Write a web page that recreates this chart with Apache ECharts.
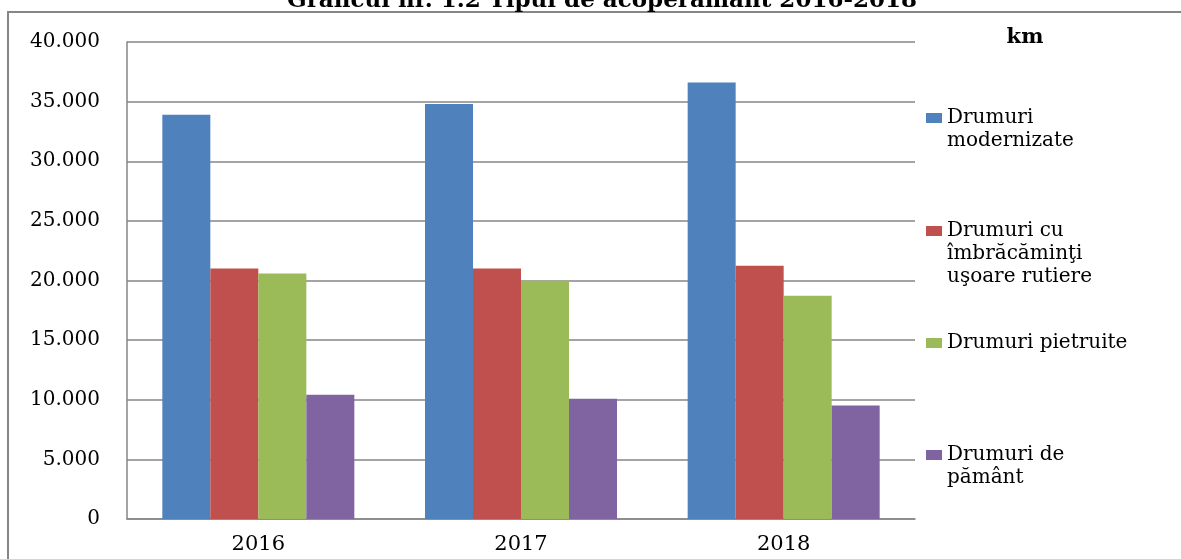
<!DOCTYPE html>
<html>
<head>
<meta charset="utf-8">
<script src="https://cdn.jsdelivr.net/npm/echarts@6/dist/echarts.min.js"></script>
<style>
  html, body { margin: 0; padding: 0; background: #fff; }
  #chart { width: 1181px; height: 559px; }
</style>
</head>
<body>
<div id="chart"></div>
<script>
// categories and values (km)
const years = ['2016', '2017', '2018']
const seriesNames = ['Drumuri modernizate', 'Drumuri cu îmbrăcăminţi uşoare rutiere', 'Drumuri pietruite', 'Drumuri de pământ']
const modernizate = [33900, 34810, 36610]
const imbracaminti = [21010, 21010, 21230]
const pietruite = [20590, 19970, 18720]
const pamant = [10420, 10080, 9520]
// how the legend text is broken into lines
const legendLines = [
  ['Drumuri', 'modernizate'],
  ['Drumuri cu', 'îmbrăcăminţi', 'uşoare rutiere'],
  ['Drumuri pietruite'],
  ['Drumuri de', 'pământ']
]

const colors = ['#4F81BD', '#C0504D', '#9BBB59', '#8064A2']
const values = [modernizate, imbracaminti, pietruite, pamant]
const serif = 'DejaVu Serif'
const lineH = 23

const chart = echarts.init(document.getElementById('chart'))

// one legend per series so every icon sits next to the first line of its label
const legendCenters = [118, 231, 343, 455]
const legends = seriesNames.map((name, i) => {
  const lines = legendLines[i]
  const pad = new Array(lines.length - 1).fill('') // blank lines on top keep line 1 centred on the icon
  const total = pad.length + lines.length
  return {
    data: [name],
    orient: 'vertical',
    left: 926,
    top: legendCenters[i] - total * lineH / 2,
    padding: 0,
    itemWidth: 16,
    itemHeight: 10,
    icon: 'rect',
    selectedMode: false,
    formatter: () => pad.concat(lines).join('\n'),
    textStyle: { fontFamily: serif, fontSize: 20, color: '#000', lineHeight: lineH }
  }
})

const option = {
  animation: false,
  backgroundColor: '#fff',
  color: colors,
  grid: { left: 127, right: 266, top: 42, bottom: 40 },
  legend: legends,
  xAxis: {
    type: 'category',
    data: years,
    axisLine: { lineStyle: { color: '#868686', width: 1.5 } },
    axisTick: { show: false },
    axisLabel: { color: '#000', fontFamily: serif, fontSize: 21, margin: 15 }
  },
  yAxis: {
    type: 'value',
    min: 0,
    max: 40000,
    interval: 5000,
    axisLine: { show: true, lineStyle: { color: '#868686', width: 1.5 } },
    axisTick: { show: false },
    splitLine: { lineStyle: { color: '#868686', width: 1.5 } },
    axisLabel: {
      color: '#000',
      fontFamily: serif,
      fontSize: 20,
      margin: 27,
      formatter: v => String(v).replace(/\B(?=(\d{3})+(?!\d))/g, '.')
    }
  },
  series: seriesNames.map((name, i) => ({
    name: name,
    type: 'bar',
    data: values[i],
    barWidth: 48,
    barGap: '0%',
    itemStyle: { color: colors[i] }
  })),
  graphic: [
    {
      type: 'rect',
      shape: { x: 8, y: 12, width: 1400, height: 800 },
      style: { fill: null, stroke: '#868686', lineWidth: 2 },
      silent: true
    },
    {
      type: 'text',
      x: 602,
      y: 13,
      style: {
        text: 'Graficul nr. 1.2 Tipul de acoperământ 2016-2018',
        font: 'bold 23px "DejaVu Serif"',
        fill: '#000',
        align: 'center',
        verticalAlign: 'bottom'
      }
    },
    {
      type: 'text',
      x: 1025,
      y: 38,
      style: {
        text: 'km',
        font: 'bold 21px "DejaVu Serif"',
        fill: '#000',
        align: 'center',
        verticalAlign: 'middle'
      }
    }
  ]
}

chart.setOption(option)
</script>
</body>
</html>
